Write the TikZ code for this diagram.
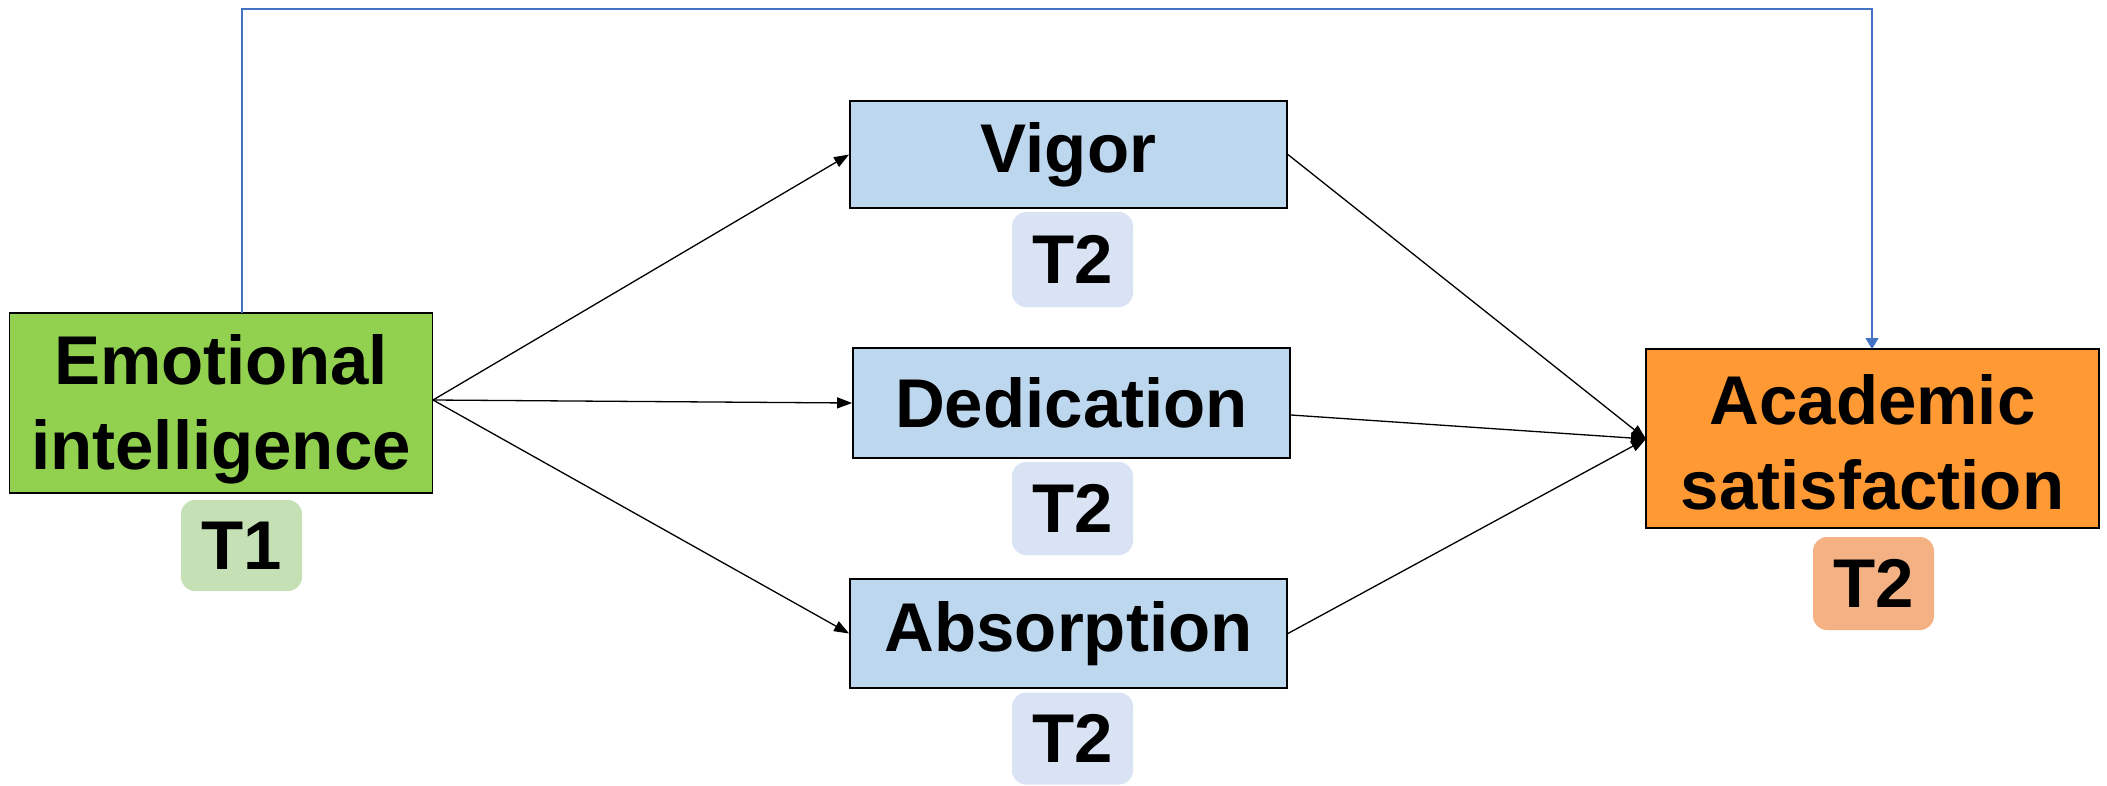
\documentclass[tikz,border=0pt]{standalone}
\usepackage{fontspec}
\setmainfont{Liberation Sans}
\usetikzlibrary{arrows.meta}

\definecolor{eigreen}{HTML}{92D050}
\definecolor{tonegreen}{HTML}{C5E0B4}
\definecolor{engblue}{HTML}{BDD7EE}
\definecolor{ttwoblue}{HTML}{DAE3F3}
\definecolor{asorange}{HTML}{FF9933}
\definecolor{ttwoorange}{HTML}{F4B183}
\definecolor{linkblue}{HTML}{4472C4}

\begin{document}
\begin{tikzpicture}[x=1pt,y=-1pt,
  every node/.style={font=\fontsize{69}{85}\selectfont\bfseries, align=center, inner sep=0pt},
  varbox/.style={draw=black, line width=1.8pt, rectangle},
  badge/.style={rectangle, rounded corners=14pt, minimum width=121pt},
  path/.style={draw=black, line width=1.3pt, -{Triangle[length=15pt,width=11pt]}},
  direct/.style={draw=linkblue, line width=1.6pt, -{Triangle[length=11pt,width=13pt]}}
]
\useasboundingbox (0,0) rectangle (2107,785);

% constructs
\node[varbox, fill=eigreen, minimum width=423pt, minimum height=180pt] (ei) at (221,403) {};
\node[yshift=-6pt] (eitext) at (ei.center) {Emotional\\intelligence};
\node[varbox, fill=engblue, minimum width=437pt, minimum height=107pt] (vig) at (1068.5,154.5) {Vigor};
\node[varbox, fill=engblue, minimum width=437pt, minimum height=110pt] (ded) at (1071.5,403) {Dedication};
\node[varbox, fill=engblue, minimum width=437pt, minimum height=109pt] (abs) at (1068.5,633.5) {Absorption};
\node[varbox, fill=asorange, minimum width=453pt, minimum height=179pt] (as) at (1872.5,438.5) {};
\node[yshift=-4pt] (astext) at (as.center) {Academic\\satisfaction};

% measurement waves
\node[badge, fill=tonegreen, minimum height=91pt] (t1) at (241.5,545.5) {T1};
\node[badge, fill=ttwoblue, minimum height=95pt] (t2v) at (1072.5,259.5) {T2};
\node[badge, fill=ttwoblue, minimum height=93pt] (t2d) at (1072.5,508.5) {T2};
\node[badge, fill=ttwoblue, minimum height=92pt] (t2a) at (1072.5,738.5) {T2};
\node[badge, fill=ttwoorange, minimum height=93pt] (t2s) at (1873.5,583.5) {T2};

% direct effect over the top
\coordinate (eitop) at (242,313);
\coordinate (astop) at (1872,349);
\draw[direct] (eitop) -- (242,9) -- (1872,9) -- (astop);

% paths through the engagement dimensions
\coordinate (src) at (433,400);
\coordinate (dst) at (1646,439);
\draw[path] (src) -- (vig.west);
\draw[path] (src) -- (ded.west);
\draw[path] (src) -- (abs.west);
\draw[path] (vig.east) -- (dst);
\draw[path] ([yshift=-12pt]ded.east) -- (dst);
\draw[path] (abs.east) -- (dst);
\end{tikzpicture}
\end{document}
